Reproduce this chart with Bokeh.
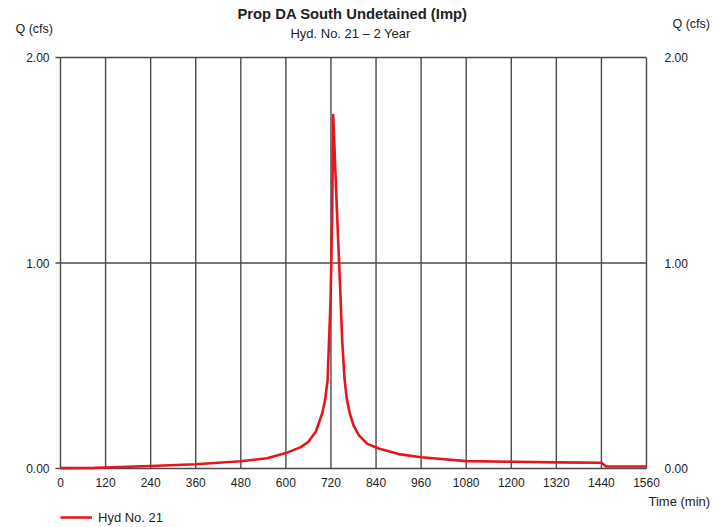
import math
from bokeh.plotting import figure
from bokeh.models import Range1d, Label, Legend, LegendItem
from bokeh.core.properties import value
from bokeh.embed import file_html
from bokeh.resources import INLINE

title = "Prop DA South Undetained (Imp)"
subtitle = "Hyd. No. 21 \u2013 2 Year"
y_label = "Q (cfs)"
x_label = "Time (min)"
series_name = "Hyd No. 21"
x_ticks = [0, 120, 240, 360, 480, 600, 720, 840, 960, 1080, 1200, 1320, 1440, 1560]
y_ticks = [0.0, 1.0, 2.0]

time_min = [0, 90, 120, 240, 360, 480, 550, 600, 640, 660, 680, 697, 705, 711, 719, 723, 726,
            736, 744, 750, 756, 762, 770, 780, 795, 817, 847, 900, 960, 1080, 1200, 1320, 1440, 1452, 1560]
q_cfs = [0.002, 0.003, 0.005, 0.012, 0.021, 0.035, 0.05, 0.075, 0.104, 0.13, 0.18, 0.27, 0.34, 0.43, 0.82, 1.2, 1.72,
         1.25, 0.9, 0.62, 0.44, 0.34, 0.27, 0.21, 0.16, 0.12, 0.097, 0.07, 0.055, 0.036, 0.033, 0.03, 0.028, 0.01, 0.01]

FONT = "Liberation Sans"
TXT = "#222222"
GRID = "#4a4a4a"
RED = "#e8141b"

W, H = 722, 527
# plot area in page pixels
FL, FR, FT, FB = 60, 646, 57, 468
XMIN, XMAX = x_ticks[0], x_ticks[-1]
YMIN, YMAX = y_ticks[0], y_ticks[-1]
sx = (FR - FL) / (XMAX - XMIN)
sy = (FB - FT) / (YMAX - YMIN)
x_range = Range1d(XMIN - FL / sx, XMAX + (W - FR) / sx)
y_range = Range1d(YMIN - (H - FB) / sy, YMAX + FT / sy)

def px_x(px):
    return XMIN + (px - FL) / sx

def px_y(py):
    return YMIN + (FB - py) / sy

p = figure(width=W, height=H, output_backend="svg", toolbar_location=None,
           x_range=x_range, y_range=y_range, x_axis_type=None, y_axis_type=None,
           min_border=0)
p.outline_line_color = None
p.grid.visible = False

# grid / frame lines
p.segment(x0=x_ticks, y0=[YMIN] * len(x_ticks), x1=x_ticks, y1=[YMAX] * len(x_ticks),
          line_color=GRID, line_width=1.4)
p.segment(x0=[XMIN] * len(y_ticks), y0=y_ticks, x1=[XMAX] * len(y_ticks), y1=y_ticks,
          line_color=GRID, line_width=1.4)
# left tick marks
p.ray(x=[XMIN] * len(y_ticks), y=y_ticks, length=5, length_units="screen", angle=math.pi,
      line_color=GRID, line_width=1.4)

# tick labels
p.text(x=x_ticks, y=[YMIN] * len(x_ticks), text=[str(t) for t in x_ticks], y_offset=14,
       text_font=value(FONT), text_font_size="12px", text_color=TXT,
       text_align="center", text_baseline="middle")
p.text(x=[XMIN] * len(y_ticks), y=y_ticks, text=[f"{v:.2f}" for v in y_ticks], x_offset=-11,
       text_font=value(FONT), text_font_size="12px", text_color=TXT,
       text_align="right", text_baseline="middle")
p.text(x=[XMAX] * len(y_ticks), y=y_ticks, text=[f"{v:.2f}" for v in y_ticks], x_offset=18,
       text_font=value(FONT), text_font_size="12px", text_color=TXT,
       text_align="left", text_baseline="middle")

# data line
r = p.line(time_min, q_cfs, line_color=RED, line_width=2.6, line_join="round")

def lab(px, py, text, size="12px", bold=False, align="left"):
    p.add_layout(Label(x=px_x(px), y=px_y(py), text=text, text_font=FONT, text_font_size=size,
                       text_font_style="bold" if bold else "normal", text_color=TXT,
                       text_align=align, text_baseline="middle"))

lab(352, 13, title, size="14.8px", bold=True, align="center")
lab(350, 33, subtitle, size="13px", align="center")
lab(15, 28, y_label, size="12.5px")
lab(672, 23, y_label, size="12.5px")
lab(648, 501, x_label, size="13px")

legend = Legend(items=[LegendItem(label=series_name, renderers=[r])],
                location=(60, 0), glyph_width=32, glyph_height=20, label_height=20,
                label_standoff=6, label_text_font=FONT,
                label_text_font_size="13px", label_text_color=TXT,
                border_line_color=None, background_fill_alpha=0, padding=0, margin=0)
p.add_layout(legend)

open("out.html", "w").write(file_html(p, INLINE))
